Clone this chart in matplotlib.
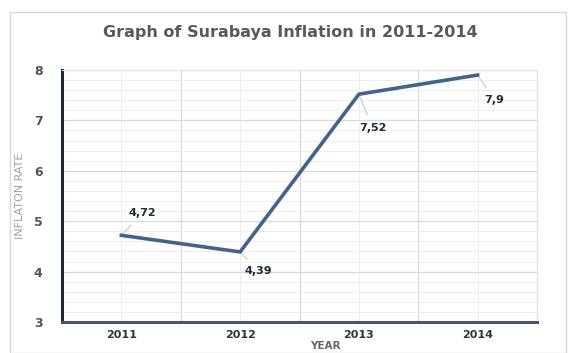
import matplotlib.pyplot as plt
from matplotlib.patches import Rectangle
from matplotlib.ticker import MultipleLocator, FixedLocator

years = ["2011", "2012", "2013", "2014"]
inflation = [4.72, 4.39, 7.52, 7.9]
labels = ["4,72", "4,39", "7,52", "7,9"]
# label offsets in points (dx, dy) for the callouts
offsets = [(15, 16), (13, -14), (10, -24), (12, -18)]

W, H = 569, 353
fig = plt.figure(figsize=(W / 100, H / 100), dpi=100)
fig.patches.append(Rectangle((10 / W, 0), 556 / W, 1 - 12 / H, transform=fig.transFigure,
                             fill=False, edgecolor="#d9d9d9", linewidth=1))

ax = fig.add_axes([62 / W, 1 - 322 / H, (537 - 62) / W, (322 - 70) / H])
x = list(range(len(years)))
ax.plot(x, inflation, color="#44638c", linewidth=2.6, solid_joinstyle="miter")

ax.set_xlim(-0.5, len(years) - 0.5)
ax.set_ylim(3, 8)
ax.set_xticks(x)
ax.set_xticklabels(years, fontsize=8, fontweight="bold", color="#333333")
ax.xaxis.set_minor_locator(FixedLocator([i - 0.5 for i in range(len(years) + 1)]))
ax.yaxis.set_major_locator(MultipleLocator(1))
ax.yaxis.set_minor_locator(MultipleLocator(0.2))
ax.tick_params(axis="both", which="both", length=0)
ax.tick_params(axis="y", labelsize=9, labelcolor="#555555", pad=14)
ax.tick_params(axis="x", pad=6)
for t in ax.get_yticklabels():
    t.set_fontweight("bold")

ax.grid(which="major", axis="y", color="#d9d9d9", linewidth=0.9)
ax.grid(which="minor", axis="y", color="#eeeeee", linewidth=0.7)
ax.grid(which="minor", axis="x", color="#d9d9d9", linewidth=0.9)
ax.grid(which="major", axis="x", color="#eeeeee", linewidth=0.7)
ax.set_axisbelow(True)

for side in ["top", "right"]:
    ax.spines[side].set_color("#e3e3e3")
    ax.spines[side].set_linewidth(0.8)
ax.spines["left"].set_color("#1f2a3a")
ax.spines["left"].set_linewidth(2.2)
ax.spines["bottom"].set_color("#4a5568")
ax.spines["bottom"].set_linewidth(2.2)

for xi, yi, lab, (dx, dy) in zip(x, inflation, labels, offsets):
    ax.annotate(lab, (xi, yi), xytext=(dx, dy), textcoords="offset points",
                fontsize=8, fontweight="bold", color="#1f2a3a", ha="center", va="center",
                arrowprops=dict(arrowstyle="-", color="#c8c8c8", linewidth=0.8,
                                shrinkA=4, shrinkB=2))

ax.set_ylabel("INFLATON RATE", fontsize=8, color="#a0a0a0", labelpad=6)
fig.text(325 / W, 1 - 346 / H, "YEAR", fontsize=7.5, fontweight="bold", color="#666666",
         ha="center", va="center")
fig.text(290 / W, 1 - 33 / H, "Graph of Surabaya Inflation in 2011-2014", fontsize=11.5,
         fontweight="semibold", color="#595959", ha="center", va="center")

fig.savefig("out.png", dpi=100)
